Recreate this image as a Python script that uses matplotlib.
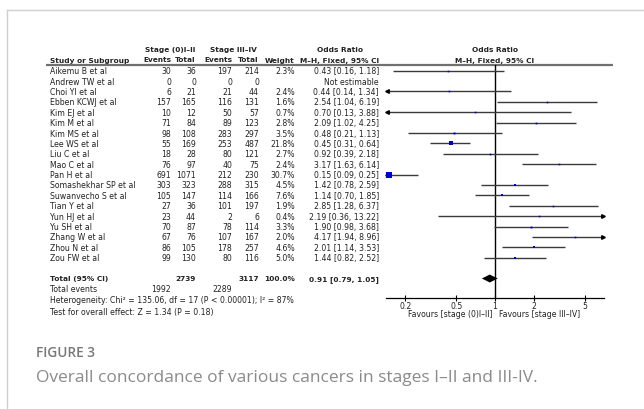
import numpy as np
import matplotlib
matplotlib.use("Agg")
import matplotlib.pyplot as plt

# --- Data ---
studies = ["Aikemu B et al", "Andrew TW et al", "Choi YI et al", "Ebben KCWJ et al",
           "Kim EJ et al", "Kim M et al", "Kim MS et al", "Lee WS et al", "Liu C et al",
           "Mao C et al", "Pan H et al", "Somashekhar SP et al", "Suwanvecho S et al",
           "Tian Y et al", "Yun HJ et al", "Yu SH et al", "Zhang W et al", "Zhou N et al",
           "Zou FW et al"]
events_1 = [30, 0, 6, 157, 10, 71, 98, 55, 18, 76, 691, 303, 105, 27, 23, 70, 67, 86, 99]
total_1 = [36, 0, 21, 165, 12, 84, 108, 169, 28, 97, 1071, 323, 147, 36, 44, 87, 76, 105, 130]
events_2 = [197, 0, 21, 116, 50, 89, 283, 253, 80, 40, 212, 288, 114, 101, 2, 78, 107, 178, 80]
total_2 = [214, 0, 44, 131, 57, 123, 297, 487, 121, 75, 230, 315, 166, 197, 6, 114, 167, 257, 116]
weights = [2.3, None, 2.4, 1.6, 0.7, 2.8, 3.5, 21.8, 2.7, 2.4, 30.7, 4.5, 7.6, 1.9, 0.4, 3.3, 2.0, 4.6, 5.0]
odds = [0.43, None, 0.44, 2.54, 0.70, 2.09, 0.48, 0.45, 0.92, 3.17, 0.15, 1.42, 1.14, 2.85,
        2.19, 1.90, 4.17, 2.01, 1.44]
ci_low = [0.16, None, 0.14, 1.04, 0.13, 1.02, 0.21, 0.31, 0.39, 1.63, 0.09, 0.78, 0.70, 1.28,
          0.36, 0.98, 1.94, 1.14, 0.82]
ci_high = [1.18, None, 1.34, 6.19, 3.88, 4.25, 1.13, 0.64, 2.18, 6.14, 0.25, 2.59, 1.85, 6.37,
           13.22, 3.68, 8.96, 3.53, 2.52]

sum_events = [1992, 2289]
sum_total = [2739, 3117]
pooled = [0.91, 0.79, 1.05]
heterogeneity = "Heterogeneity: Chi\u00b2 = 135.06, df = 17 (P < 0.00001); I\u00b2 = 87%"
overall = "Test for overall effect: Z = 1.34 (P = 0.18)"
ticks = [0.2, 0.5, 1, 2, 5]
tick_labels = ["0.2", "0.5", "1", "2", "5"]

# --- Layout (pixels) ---
W, H = 644, 410
ROW0, DY = 71.7, 10.39
TOTAL_ROW = 20
FS = 5.6
HFS = 5.3
TXT = "#222222"

def row_y(i):
    return ROW0 + DY * i

fig = plt.figure(figsize=(W / 100, H / 100), dpi=100)
bg = fig.add_axes([0, 0, 1, 1])
bg.set_xlim(0, W)
bg.set_ylim(H, 0)
bg.axis("off")

# card border
bg.plot([7, 7], [11, H], color="#cfcfcf", lw=1)
bg.plot([7, W], [11, 11], color="#cfcfcf", lw=1)

# column headers
hdr = dict(fontsize=HFS, fontweight="bold", color=TXT, va="center")
bg.text(170, 50, "Stage (0)I\u2013II", ha="center", **hdr)
bg.text(233, 50, "Stage III\u2013IV", ha="center", **hdr)
bg.text(340, 50, "Odds Ratio", ha="center", **hdr)
bg.text(495, 50, "Odds Ratio", ha="center", **hdr)
bg.text(50, 60.5, "Study or Subgroup", ha="left", **hdr)
for x, s in [(171, "Events"), (196, "Total"), (232, "Events"), (259, "Total"),
             (295, "Weight"), (379, "M\u2013H, Fixed, 95% CI")]:
    bg.text(x, 60.5, s, ha="right", **hdr)
bg.text(495, 60.5, "M\u2013H, Fixed, 95% CI", ha="center", **hdr)
bg.plot([46, 613], [65.7, 65.7], color="#707070", lw=1.6, solid_capstyle="butt")

# study rows
cell = dict(fontsize=FS, color=TXT, va="center")
for i, name in enumerate(studies):
    y = row_y(i)
    bg.text(50, y, name, ha="left", **cell)
    bg.text(171, y, str(events_1[i]), ha="right", **cell)
    bg.text(196, y, str(total_1[i]), ha="right", **cell)
    bg.text(232, y, str(events_2[i]), ha="right", **cell)
    bg.text(259, y, str(total_2[i]), ha="right", **cell)
    if weights[i] is None:
        bg.text(379, y, "Not estimable", ha="right", **cell)
    else:
        bg.text(295, y, f"{weights[i]:.1f}%", ha="right", **cell)
        bg.text(379, y, f"{odds[i]:.2f} [{ci_low[i]:.2f}, {ci_high[i]:.2f}]", ha="right", **cell)

# totals
ty = row_y(TOTAL_ROW)
bold = dict(fontsize=HFS, color=TXT, va="center", fontweight="bold")
bg.text(50, ty, "Total (95% CI)", ha="left", **bold)
bg.text(196, ty, str(sum_total[0]), ha="right", **bold)
bg.text(259, ty, str(sum_total[1]), ha="right", **bold)
bg.text(295, ty, "100.0%", ha="right", **bold)
bg.text(379, ty, f"{pooled[0]:.2f} [{pooled[1]:.2f}, {pooled[2]:.2f}]", ha="right", **bold)
bg.text(50, 290, "Total events", ha="left", **cell)
bg.text(171, 290, str(sum_events[0]), ha="right", **cell)
bg.text(232, 290, str(sum_events[1]), ha="right", **cell)
bg.text(50, 301, heterogeneity, ha="left", **cell)
bg.text(50, 312.5, overall, ha="left", **cell)

bg.text(493, 315, "Favours [stage (0)I\u2013II]", ha="right", **cell)
bg.text(499, 315, "Favours [stage III\u2013IV]", ha="left", **cell)

# caption
bg.text(36, 353, "FIGURE 3", ha="left", va="center", fontsize=9.8,
        color="#777777", family="Open Sans", fontweight="semibold")
bg.text(36, 378, "Overall concordance of various cancers in stages I\u2013II and III-IV.",
        ha="left", va="center", fontsize=12.5, color="#8a8a8a", family="Open Sans")

# --- Forest plot axes ---
L, R, T, B = 386, 604, 65.7, 299
ax = fig.add_axes([L / W, 1 - B / H, (R - L) / W, (B - T) / H])
ax.set_xscale("log")
xmin, xmax = 10 ** -0.85, 10 ** 0.85
ax.set_xlim(xmin, xmax)
ax.set_ylim((B - ROW0) / DY, (T - ROW0) / DY)
ax.patch.set_alpha(0)
for side in ["top", "left", "right"]:
    ax.spines[side].set_visible(False)
ax.spines["bottom"].set_linewidth(0.9)
ax.set_yticks([])
ax.set_xticks(ticks)
ax.set_xticklabels(tick_labels)
ax.minorticks_off()
ax.tick_params(axis="x", direction="inout", length=4, width=0.8, pad=0.5,
               labelsize=FS, labelcolor=TXT)

ax.axvline(1, color="black", lw=1)

for i in range(len(studies)):
    if odds[i] is None:
        continue
    lo = max(ci_low[i], xmin)
    hi = min(ci_high[i], xmax)
    ax.plot([lo, hi], [i, i], color="#3a3a3a", lw=1, solid_capstyle="butt")
    if ci_low[i] < xmin:
        ax.plot([xmin * 1.02], [i], marker="<", ms=2.6, color="black", clip_on=False)
    if ci_high[i] > xmax:
        ax.plot([xmax / 1.02], [i], marker=">", ms=2.6, color="black", clip_on=False)
    side = max(1.6, 1.03 * np.sqrt(weights[i]))
    ax.plot([odds[i]], [i], marker="s", ms=side * 0.72, color="#0000cc",
            markeredgewidth=0, zorder=5)

# pooled diamond
h = 0.38
ax.fill([pooled[1], pooled[0], pooled[2], pooled[0]],
        [TOTAL_ROW, TOTAL_ROW - h, TOTAL_ROW, TOTAL_ROW + h],
        color="black", lw=0, zorder=5)

fig.savefig("out.png", dpi=100)
